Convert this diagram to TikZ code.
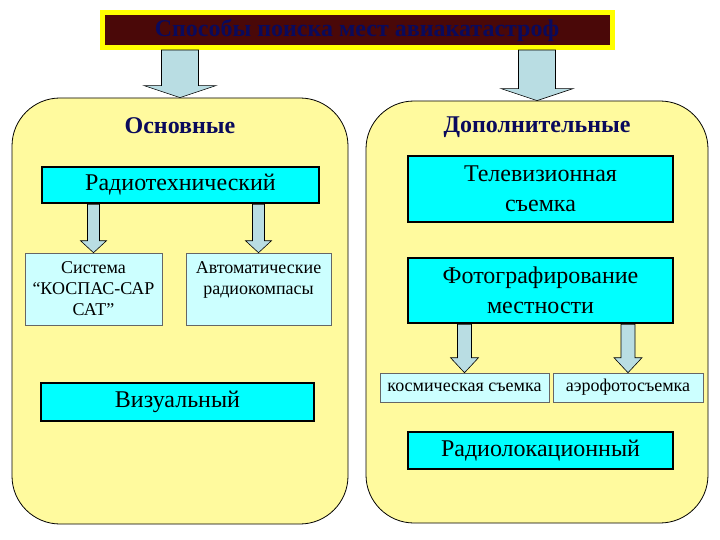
\documentclass[tikz,border=0pt]{standalone}
\usepackage{fontspec}
\setmainfont{Liberation Serif}
\usepackage{xcolor}
\usepackage{tikz}
\usetikzlibrary{calc}
\definecolor{maroonx}{HTML}{4A0808}
\definecolor{yellowx}{HTML}{FFFF00}
\definecolor{navyx}{HTML}{0A0A5C}
\definecolor{panelbg}{HTML}{FFFA9E}
\definecolor{cyanx}{HTML}{00FFFF}
\definecolor{paleblue}{HTML}{CCFFFF}
\definecolor{arrowbg}{HTML}{B9DDE3}
\tikzset{
  panel/.style={draw=black,line width=0.8pt,rounded corners=48pt,fill=panelbg,inner sep=0pt},
  head/.style={font=\fontsize{24}{28}\selectfont\bfseries,text=navyx},
  bigbox/.style={draw=black,line width=2.6pt,fill=cyanx,align=center,inner sep=0pt,
    font=\fontsize{24}{30}\selectfont},
  smallbox/.style={draw=black!60,line width=0.6pt,fill=paleblue,align=center,inner sep=0pt,
    font=\fontsize{18}{21}\selectfont}
}
% block arrow: source, target, half shaft, half head, head length
\newcommand{\blockar}[5]{%
  \filldraw[fill=arrowbg,draw=black,line width=0.6pt] let \p1=(#1.south -| #2.north), \p2=(#2.north) in
    (\x1-#3pt,\y1) -- (\x1-#3pt,\y2+#5pt) -- (\x1-#4pt,\y2+#5pt) -- (\x1,\y2)
    -- (\x1+#4pt,\y2+#5pt) -- (\x1+#3pt,\y2+#5pt) -- (\x1+#3pt,\y1) -- cycle;}

\begin{document}
\begin{tikzpicture}[x=1pt,y=-1pt]
\fill[white] (0,0) rectangle (720,540);
\useasboundingbox (0,0) rectangle (720,540);
% title
\node[draw=yellowx,line width=5pt,fill=maroonx,minimum width=510pt,minimum height=35pt,inner sep=0pt,
  font=\fontsize{24}{28}\selectfont\bfseries,text=navyx] (title) at (357,30) {Способы поиска мест авиакатастроф};
% panels
\node[panel,minimum width=336pt,minimum height=426pt] (lpanel) at (180,311) {};
\node[panel,minimum width=342pt,minimum height=422pt] (rpanel) at (537,312) {};
\node[head] (main) at (180,126) {Основные};
\node[head] (extra) at (537,127) {Дополнительные};
% left side
\node[bigbox,minimum width=277pt,minimum height=36pt] (radio) at (180.5,185) {Радиотехнический};
\node[smallbox,minimum width=137pt,minimum height=72pt] (sys) at (93.5,289) {Система\\“КОСПАС-САР\\САТ”};
\node[smallbox,minimum width=145pt,minimum height=72pt] (auto) at (258.5,289) {Автоматические\\радиокомпасы\\\mbox{}};
\node[bigbox,minimum width=273pt,minimum height=38pt] (vis) at (177.5,402) {Визуальный};
% right side
\node[bigbox,minimum width=265pt,minimum height=66pt] (tv) at (540.5,189) {Телевизионная\\съемка};
\node[bigbox,minimum width=265pt,minimum height=65pt] (photo) at (540.5,290.5) {Фотографирование\\местности};
\node[smallbox,minimum width=169pt,minimum height=29pt] (space) at (464.5,387.5) {космическая съемка};
\node[smallbox,minimum width=150pt,minimum height=29pt] (aero) at (628,387.5) {аэрофотосъемка};
\node[bigbox,minimum width=265pt,minimum height=37pt] (radar) at (540.5,450.5) {Радиолокационный};
% arrows
\blockar{title}{lpanel}{18.5}{36}{12}
\blockar{title}{rpanel}{18.5}{36}{12}
\blockar{radio}{sys}{6}{13}{12}
\blockar{radio}{auto}{6}{13}{12}
\blockar{photo}{space}{7}{14}{15}
\blockar{photo}{aero}{7}{14}{15}
\end{tikzpicture}
\end{document}
